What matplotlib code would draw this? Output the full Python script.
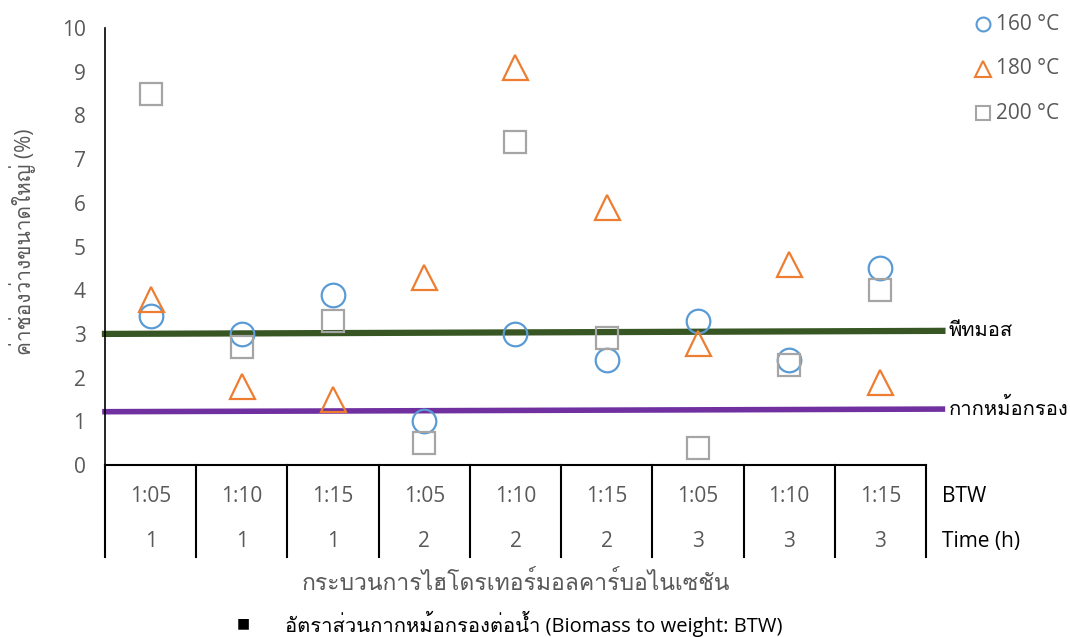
import matplotlib
matplotlib.use("Agg")
import matplotlib.pyplot as plt
from matplotlib import font_manager

# หาฟอนต์ที่มีอักษรไทย
thai_font = None
try:
    from fontTools.ttLib import TTFont
    for f in font_manager.fontManager.ttflist:
        try:
            cmap = TTFont(f.fname, fontNumber=0, lazy=True).getBestCmap()
        except Exception:
            continue
        if cmap and 0x0E01 in cmap:
            thai_font = f.name
            break
except Exception:
    pass

fams = ['Open Sans']
if thai_font:
    fams.append(thai_font)
fams.append('DejaVu Sans')
plt.rcParams['font.family'] = fams

# ข้อมูล
btw = ['1:05', '1:10', '1:15', '1:05', '1:10', '1:15', '1:05', '1:10', '1:15']
hours = ['1', '1', '1', '2', '2', '2', '3', '3', '3']
t160 = [3.4, 3.0, 3.9, 1.0, 3.0, 2.4, 3.3, 2.4, 4.5]
t180 = [3.8, 1.8, 1.5, 4.3, 9.1, 5.9, 2.8, 4.6, 1.9]
t200 = [8.5, 2.7, 3.3, 0.5, 7.4, 2.9, 0.4, 2.3, 4.0]
ref_x = [-0.5, 8.68]
peat = [3.0, 3.07]
filter_cake = [1.22, 1.28]

grey = '#595959'
fig = plt.figure(figsize=(10.7, 6.37), dpi=100)
ax = fig.add_axes([0.0981, 0.27, 0.7673, 0.686])

x = list(range(len(btw)))
ax.plot(ref_x, peat, color='#375623', lw=4.5, clip_on=False, zorder=2)
ax.plot(ref_x, filter_cake, color='#7030A0', lw=4, clip_on=False, zorder=2)
ax.plot(x, t160, 'o', ms=17, mfc='none', mec='#5B9BD5', mew=1.6, zorder=3)
ax.plot(x, t180, '^', ms=18, mfc='none', mec='#ED7D31', mew=1.6, zorder=3)
ax.plot(x, t200, 's', ms=16, mfc='none', mec='#A5A5A5', mew=1.6, zorder=3)

ax.set_xlim(-0.5, 8.5)
ax.set_ylim(0, 10)
ax.set_yticks(range(0, 11))
ax.tick_params(axis='y', length=0, labelsize=15, labelcolor=grey, pad=14)
ax.set_xticks([])
for s in ['top', 'right']:
    ax.spines[s].set_visible(False)
ax.spines['left'].set_color('black')
ax.spines['bottom'].set_color('black')
ax.spines['left'].set_linewidth(1.2)
ax.spines['bottom'].set_linewidth(1.5)

# ตารางหมวดหมู่ใต้แกน
tr = ax.get_xaxis_transform()
for xv in [i - 0.5 for i in range(len(btw) + 1)]:
    ax.plot([xv, xv], [0, -0.21], color='black', lw=1.5, transform=tr, clip_on=False)
for i in x:
    ax.text(i, -0.073, btw[i], transform=tr, ha='center', va='center', fontsize=15, color=grey)
    ax.text(i, -0.174, hours[i], transform=tr, ha='center', va='center', fontsize=15, color=grey)
ax.text(8.68, -0.073, 'BTW', transform=tr, ha='left', va='center', fontsize=15, color='black')
ax.text(8.68, -0.174, 'Time (h)', transform=tr, ha='left', va='center', fontsize=15, color='black')

# ป้ายเส้น
ax.text(8.75, peat[1], 'พีทมอส', ha='left', va='center', fontsize=14.5, color='black')
ax.text(8.75, filter_cake[1], 'กากหม้อกรอง', ha='left', va='center', fontsize=14.5, color='black')

# คำอธิบาย
leg_y = [0.962, 0.892, 0.822]
labels = ['160 °C', '180 °C', '200 °C']
styles = [('o', '#5B9BD5', 10), ('^', '#ED7D31', 11), ('s', '#A5A5A5', 10)]
for yy, lab, (m, c, s) in zip(leg_y, labels, styles):
    fig.lines.append(plt.Line2D([0.919], [yy], marker=m, ms=s, mfc='none', mec=c, mew=1.5,
                                transform=fig.transFigure))
    fig.text(0.931, yy, lab, ha='left', va='center', fontsize=15, color=grey)

# ชื่อแกน
fig.text(0.021, 0.62, 'ค่าช่องว่างขนาดใหญ่ (%)', rotation=90, ha='center', va='center',
         fontsize=15, color=grey)
fig.text(0.482, 0.083, 'กระบวนการไฮโดรเทอร์มอลคาร์บอไนเซชัน', ha='center', va='center',
         fontsize=16.5, color=grey)
fig.text(0.227, 0.02, '■', ha='center', va='center', fontsize=10, color='black')
fig.text(0.266, 0.02, 'อัตราส่วนกากหม้อกรองต่อน้ำ (Biomass to weight: BTW)', ha='left',
         va='center', fontsize=14.5, color='black')

fig.savefig('out.png', dpi=100)
